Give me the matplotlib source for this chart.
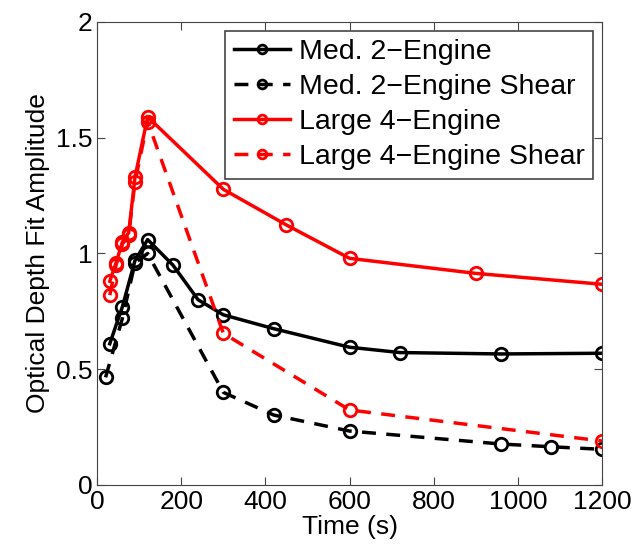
import numpy as np
import matplotlib.pyplot as plt

plt.rcParams['font.family'] = ['Liberation Sans', 'DejaVu Sans']

# Med. 2-Engine
med_t = [30, 60, 90, 120, 180, 240, 300, 420, 600, 720, 960, 1200]
med_a = [0.61, 0.77, 0.97, 1.06, 0.95, 0.80, 0.735, 0.675, 0.595, 0.572, 0.566, 0.569]

# Med. 2-Engine Shear
med_sh_t = [20, 60, 90, 120, 300, 420, 600, 960, 1080, 1200]
med_sh_a = [0.465, 0.72, 0.96, 1.0, 0.40, 0.302, 0.233, 0.177, 0.165, 0.154]

# Large 4-Engine
lrg_t = [30, 45, 60, 75, 90, 120, 300, 450, 600, 900, 1200]
lrg_a = [0.88, 0.96, 1.05, 1.09, 1.33, 1.59, 1.277, 1.123, 0.979, 0.914, 0.867]

# Large 4-Engine Shear
lrg_sh_t = [30, 45, 60, 75, 90, 120, 300, 600, 1200]
lrg_sh_a = [0.82, 0.95, 1.04, 1.08, 1.31, 1.57, 0.655, 0.324, 0.19]

fig = plt.figure(figsize=(6.35, 5.49), dpi=100)
ax = fig.add_axes([0.153, 0.1166, 0.795, 0.8434])

mk = dict(marker='o', markersize=9, markerfacecolor='none', markeredgewidth=2, linewidth=2.5)
ax.plot(med_t, med_a, '-', color='black', label='Med. 2\u2212Engine', **mk)
ax.plot(med_sh_t, med_sh_a, '--', color='black', dashes=(4, 3), label='Med. 2\u2212Engine Shear', **mk)
ax.plot(lrg_t, lrg_a, '-', color='red', label='Large 4\u2212Engine', **mk)
ax.plot(lrg_sh_t, lrg_sh_a, '--', color='red', dashes=(4, 3), label='Large 4\u2212Engine Shear', **mk)

ax.set_xlim(0, 1200)
ax.set_ylim(0, 2)
ax.set_xticks([0, 200, 400, 600, 800, 1000, 1200])
ax.set_yticks([0, 0.5, 1, 1.5, 2])
ax.set_yticklabels(['0', '0.5', '1', '1.5', '2'])
ax.tick_params(direction='in', top=True, right=True, labelsize=19, length=6, color='#444444')
for s in ax.spines.values():
    s.set_color('#444444')
ax.set_xlabel('Time (s)', fontsize=19, labelpad=1)
ax.set_ylabel('Optical Depth Fit Amplitude', fontsize=19, labelpad=4)

leg = ax.legend(loc='upper right', fontsize=20.5, fancybox=False, edgecolor='#444444',
                framealpha=1, handlelength=2.0, borderpad=0.3, labelspacing=0.32,
                handletextpad=0.3, borderaxespad=0.3, markerscale=0.7)
leg.get_frame().set_linewidth(1.2)

fig.savefig('out.png', dpi=100)
